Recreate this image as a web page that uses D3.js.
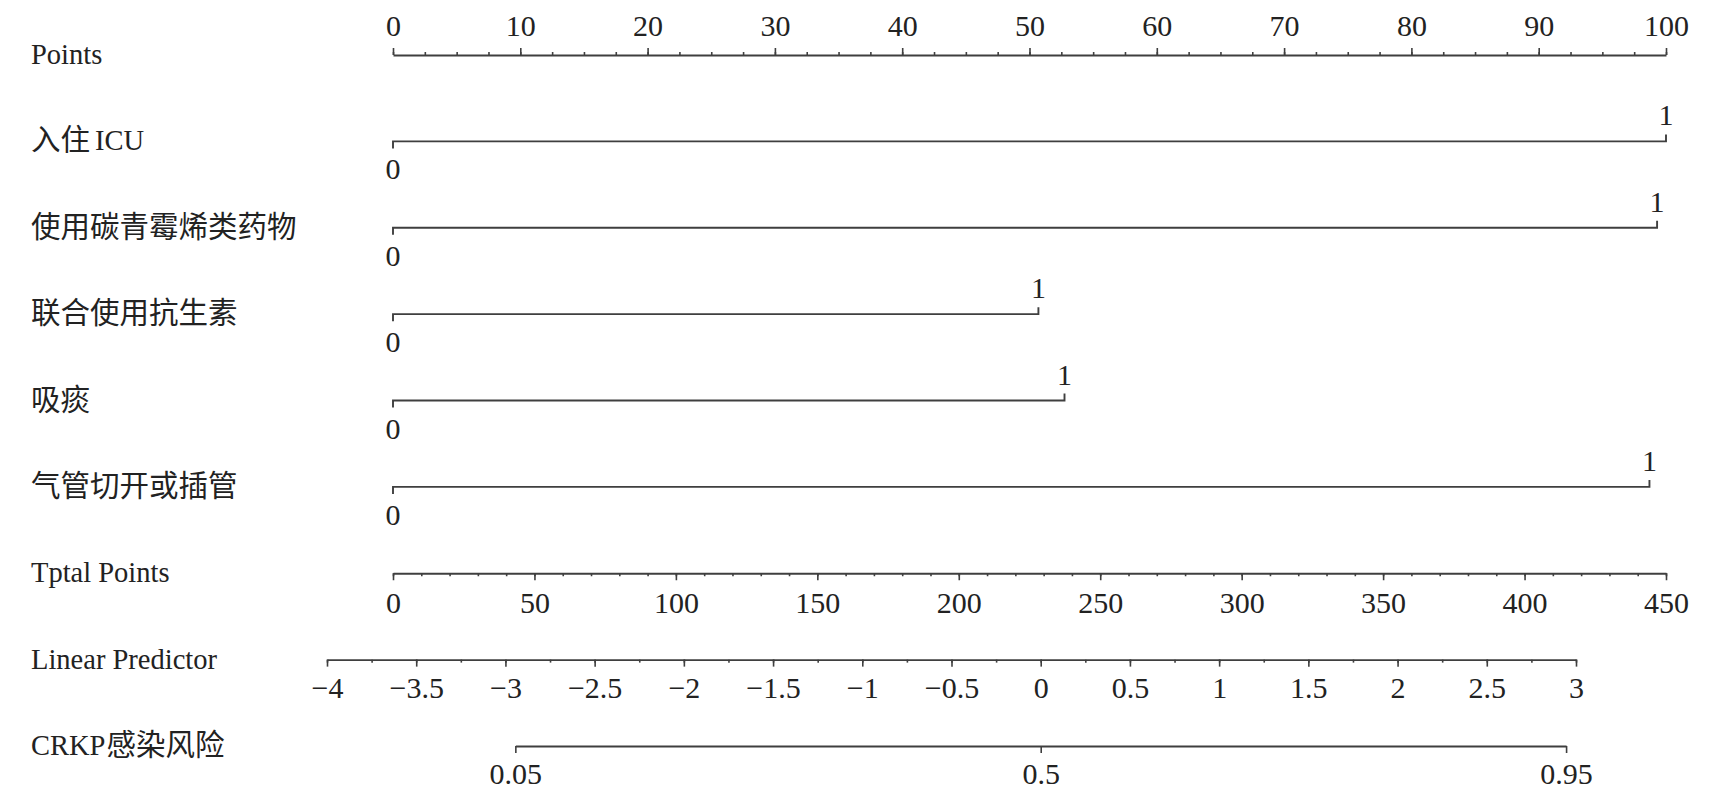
<!DOCTYPE html>
<html><head><meta charset="utf-8">
<script src="https://cdn.jsdelivr.net/npm/d3@7/dist/d3.min.js"></script>
<style>
body{margin:0;background:#fff;}
text{fill:#222;}
</style></head>
<body><svg id="c" width="1717" height="808"></svg>
<script>
const rowLabels = ["Points","入住ICU","使用碳青霉烯类药物","联合使用抗生素","吸痰","气管切开或插管","Tptal Points","Linear Predictor","CRKP感染风险"];
const varNames = ["入住ICU","使用碳青霉烯类药物","联合使用抗生素","吸痰","气管切开或插管"];
const varPoints = [100, 99.3, 50.7, 52.75, 98.7];
const varLevels = ["0","1"];
const pointsTicks = [0,10,20,30,40,50,60,70,80,90,100];
const totalTicks = [0,50,100,150,200,250,300,350,400,450];
const lpTicks = [-4,-3.5,-3,-2.5,-2,-1.5,-1,-0.5,0,0.5,1,1.5,2,2.5,3];
const riskTicks = [0.05,0.5,0.95];

const svg = d3.select("#c");
const serif = "'Liberation Serif','DejaVu Serif',serif";
const cjkFont = "'Noto Sans CJK SC',sans-serif";
const lineColor = "#3f3f3f";
const numSize = "30px";
const isCJK = s => /[\u4e00-\u9fff]/.test(s);
const rowY = d3.scaleLinear().domain([0, rowLabels.length-1]).range([55, 746]);

const xPts = d3.scaleLinear().domain([0,100]).range([393,1666]);
const xTot = d3.scaleLinear().domain([0,450]).range([393,1666]);
const xLP = d3.scaleLinear().domain([-4,3]).range([327,1576]);
const logit = p => Math.log(p/(1-p));
const fmt = v => String(v).replace("-", "\u2212");

// row labels (CJK and Latin runs in separate tspans)
const lab = svg.selectAll("text.row").data(rowLabels).join("text")
  .attr("class","row").attr("x",31).attr("y",(d,i)=>rowY(i)+9);
lab.each(function(label){
  const runs = label.match(/[\u4e00-\u9fff]+|[^\u4e00-\u9fff]+/g);
  let prevCJK = null;
  d3.select(this).selectAll("tspan").data(runs).join("tspan")
    .style("font-family",d=>isCJK(d)?cjkFont:serif)
    .style("font-size",d=>isCJK(d)?"29.5px":"28.5px")
    .attr("dx",(d,i)=>(i>0 && !isCJK(d) && d!=="CRKP") ? 5 : (i>0 && isCJK(d) ? 1 : 0))
    .text(d=>d);
});

function styleAxis(g){
  g.select(".domain").attr("stroke",lineColor).attr("stroke-width",1.9);
  g.selectAll(".tick line").attr("stroke",lineColor).attr("stroke-width",1.6);
  g.selectAll(".tick text").style("font-family",serif).style("font-size",numSize).attr("fill","#222");
}

// Points axis (ticks up)
const yP = rowY(0);
svg.append("g").attr("transform",`translate(0,${yP})`)
  .call(d3.axisTop(xPts).tickValues(d3.range(0,100.01,2.5)).tickSize(3).tickSizeOuter(0).tickFormat(""))
  .call(styleAxis);
svg.append("g").attr("transform",`translate(0,${yP})`)
  .call(d3.axisTop(xPts).tickValues(pointsTicks).tickSize(7).tickSizeOuter(0).tickPadding(12).tickFormat(fmt))
  .call(styleAxis).call(g=>g.select(".domain").remove());

// variable rows
varNames.forEach((name,i)=>{
  const y = rowY(i+1);
  const x0 = xPts(0), x1 = xPts(varPoints[i]);
  const g = svg.append("g");
  g.append("path").attr("d",`M${x0},${y+7}V${y}H${x1}V${y-7}`)
    .attr("fill","none").attr("stroke",lineColor).attr("stroke-width",1.9);
  g.append("text").attr("x",x0).attr("y",y+38).attr("text-anchor","middle")
    .style("font-family",serif).style("font-size",numSize).text(varLevels[0]);
  g.append("text").attr("x",x1).attr("y",y-16).attr("text-anchor","middle")
    .style("font-family",serif).style("font-size",numSize).text(varLevels[1]);
});

// Total points (ticks down)
const yT = rowY(6);
svg.append("g").attr("transform",`translate(0,${yT})`)
  .call(d3.axisBottom(xTot).tickValues(d3.range(0,451,10)).tickSize(3).tickSizeOuter(0).tickFormat(""))
  .call(styleAxis);
svg.append("g").attr("transform",`translate(0,${yT})`)
  .call(d3.axisBottom(xTot).tickValues(totalTicks).tickSize(7).tickSizeOuter(0).tickPadding(11).tickFormat(fmt))
  .call(styleAxis).call(g=>g.select(".domain").remove());

// Linear predictor
const yL = rowY(7);
svg.append("g").attr("transform",`translate(0,${yL})`)
  .call(d3.axisBottom(xLP).tickValues(d3.range(-4,3.01,0.25)).tickSize(3).tickSizeOuter(0).tickFormat(""))
  .call(styleAxis);
svg.append("g").attr("transform",`translate(0,${yL})`)
  .call(d3.axisBottom(xLP).tickValues(lpTicks).tickSize(7).tickSizeOuter(0).tickPadding(10).tickFormat(fmt))
  .call(styleAxis).call(g=>g.select(".domain").remove());

// Risk
const yR = rowY(8);
const xRisk = p => xLP(logit(p));
const riskScale = d3.scaleLinear().domain([logit(0.05),logit(0.95)]).range([xRisk(0.05),xRisk(0.95)]);
svg.append("g").attr("transform",`translate(0,${yR})`)
  .call(d3.axisBottom(riskScale).tickValues(riskTicks.map(logit)).tickSize(7).tickSizeOuter(0).tickPadding(10)
    .tickFormat((d,i)=>String(riskTicks[i])))
  .call(styleAxis);
</script></body></html>
